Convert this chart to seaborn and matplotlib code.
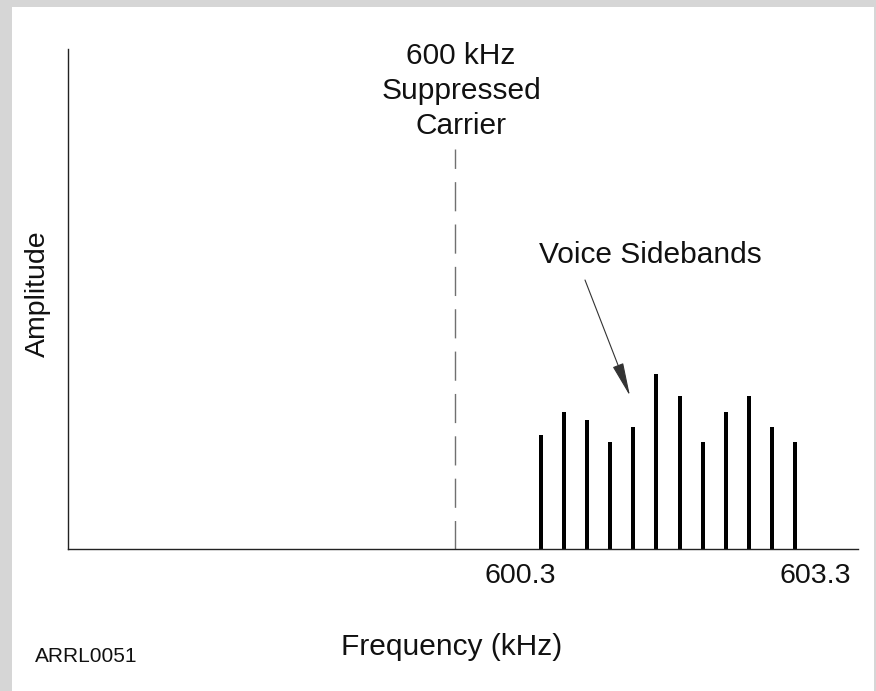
import matplotlib
matplotlib.use('Agg')
import matplotlib.pyplot as plt
from matplotlib.patches import Rectangle
import numpy as np
import seaborn as sns


# schematic spectrum of an SSB signal (upper sideband, carrier suppressed)
carrier_freq = 600.0
carrier_height = 80.0

sideband_freqs = [600.86, 601.09, 601.32, 601.55, 601.78, 602.01,
                  602.25, 602.48, 602.71, 602.94, 603.17, 603.40]
sideband_amps = [22.8, 27.5, 25.9, 21.4, 24.5, 35.1,
                 30.6, 21.4, 27.5, 30.6, 24.5, 21.4]

tick_positions = [600.65, 603.60]
tick_labels = ['600.3', '603.3']

carrier_label = '600 kHz\nSuppressed\nCarrier'
sideband_label = 'Voice Sidebands'
figure_id = 'ARRL0051'


sns.set_style('white')
plt.rcParams['font.family'] = ['Liberation Sans', 'DejaVu Sans']

fig = plt.figure(figsize=(8.76, 6.91), dpi=100, facecolor='#d6d6d6')
# white sheet on the grey backdrop
fig.patches.append(Rectangle((12 / 876, 0), 862 / 876, 684 / 691,
                             transform=fig.transFigure, facecolor='white',
                             edgecolor='none', zorder=-10))

ax = fig.add_axes([68 / 876, 1 - 549 / 691, 790 / 876, 500 / 691])
ax.set_facecolor('none')
ax.set_zorder(1)

sns.barplot(x=sideband_freqs, y=sideband_amps, native_scale=True,
            color='black', width=0.2, linewidth=0, errorbar=None,
            saturation=1, ax=ax)

ax.plot([carrier_freq, carrier_freq], [carrier_height, 0], color='#707070',
        lw=1, linestyle=(7, (21, 9.5)))

ax.set_xlim(596.13, 604.03)
ax.set_ylim(0, 100)
ax.set_xticks(tick_positions, labels=tick_labels, fontsize=20.5)
ax.set_yticks([])
ax.tick_params(axis='x', length=0, pad=10, colors='#111')

for side in ['top', 'right']:
    ax.spines[side].set_visible(False)
for side in ['left', 'bottom']:
    ax.spines[side].set_color('#222')
    ax.spines[side].set_linewidth(1)

ax.set_ylabel('Amplitude', fontsize=20.5, color='#111')
ax.yaxis.set_label_coords(-0.0215, 0.51)
ax.set_xlabel('Frequency (kHz)', fontsize=21.5, color='#111')
ax.xaxis.set_label_coords(0.486, -0.168)

ax.text(carrier_freq + 0.06, 101.5, carrier_label, ha='center', va='top',
        fontsize=21.5, color='#111', linespacing=1.33)

ax.text(601.95, 57.2, sideband_label, ha='center', va='baseline',
        fontsize=21.5, color='#111')
ax.annotate('', xy=(601.75, 30.6), xytext=(601.30, 53.8),
            arrowprops=dict(arrowstyle='-|>,head_length=1.5,head_width=0.25',
                            mutation_scale=14, lw=0.8, color='#333',
                            shrinkA=0, shrinkB=0))

fig.text(35 / 876, 1 - 657 / 691, figure_id, ha='left', va='center',
         fontsize=15, color='#111')

fig.savefig('out.png', dpi=100, facecolor=fig.get_facecolor())
